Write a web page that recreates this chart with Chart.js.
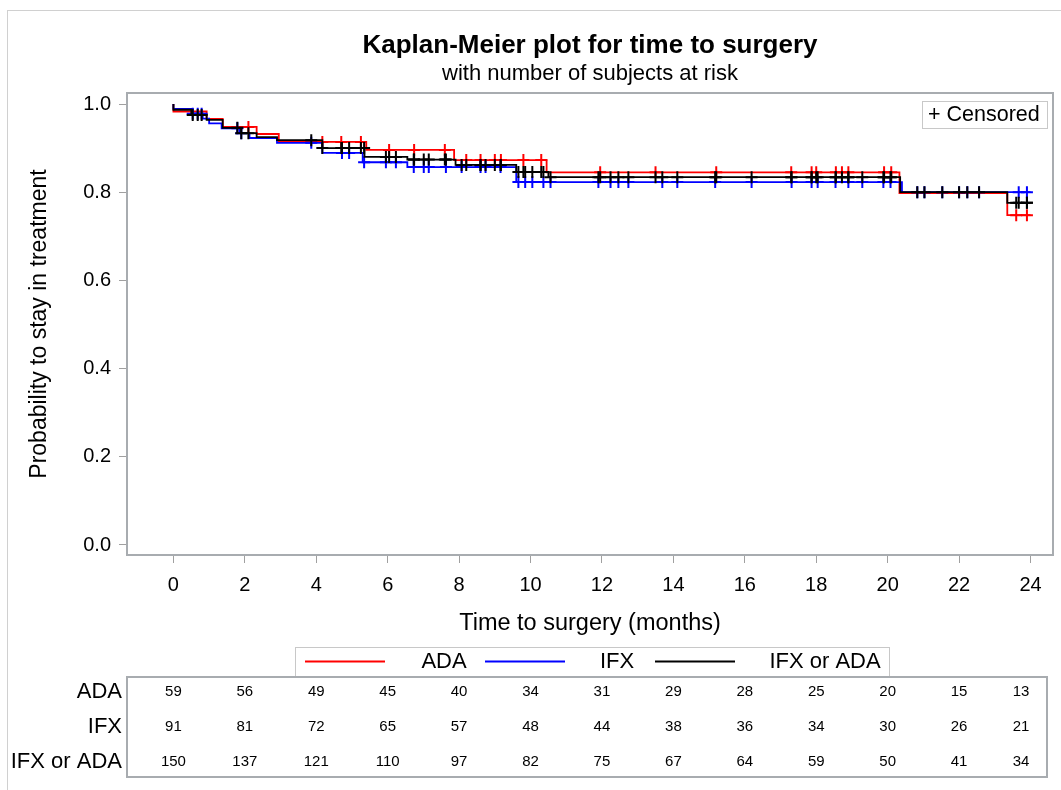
<!DOCTYPE html>
<html><head><meta charset="utf-8">
<script src="https://cdn.jsdelivr.net/npm/chart.js@4.4.1/dist/chart.umd.min.js"></script>
<style>html,body{margin:0;padding:0;background:#fff}canvas{display:block}</style>
</head><body>
<canvas id="c" width="1061" height="790" style="width:1061px;height:790px"></canvas>
<script>
// ---- data ----
const groupNames = ['ADA', 'IFX', 'IFX or ADA'];
const groupColors = ['#ff0000', '#0000ff', '#000000'];

const adaTimes = [0, 0, 0.93, 1.38, 2.33, 2.95, 5.4, 7.86, 10.45, 20.33, 23.35, 24];
const adaSurv  = [1, 0.983, 0.966, 0.948, 0.932, 0.914, 0.896, 0.873, 0.845, 0.798, 0.748, 0.748];
const adaCensored = [2.1, 4.17, 4.7, 5.25, 6.04, 6.74, 7.6, 8.2, 8.6, 9.0, 9.17, 9.8, 10.3, 11.95, 13.5, 15.2, 17.3, 17.87, 18.0, 18.55, 18.72, 18.9, 19.9, 20.1, 23.6, 23.9];

const ifxTimes = [0, 0, 0.54, 0.82, 1.0, 1.35, 1.85, 2.13, 2.9, 4.17, 5.3, 6.55, 9.6, 20.4, 24];
const ifxSurv  = [1, 0.989, 0.978, 0.967, 0.956, 0.945, 0.934, 0.923, 0.912, 0.889, 0.868, 0.857, 0.823, 0.80, 0.80];
const ifxCensored = [0.54, 0.68, 0.79, 1.79, 1.9, 3.86, 4.72, 4.92, 5.34, 5.95, 6.23, 6.73, 7.01, 7.15, 7.63, 8.07, 8.6, 8.74, 9.16, 9.66, 9.85, 10.05, 10.36, 10.56, 11.9, 12.24, 12.46, 12.74, 13.69, 14.11, 15.17, 16.19, 17.31, 17.87, 18.04, 18.54, 18.9, 19.29, 19.88, 20.08, 20.83, 21.03, 21.53, 22.0, 22.23, 22.56, 23.67, 23.9];

const allTimes = [0, 0, 0.5, 0.93, 1.38, 1.9, 2.33, 2.9, 4.17, 5.35, 6.55, 7.9, 9.6, 10.5, 20.35, 23.35, 24];
const allSurv  = [1, 0.987, 0.975, 0.964, 0.946, 0.934, 0.925, 0.918, 0.900, 0.880, 0.874, 0.862, 0.846, 0.834, 0.800, 0.776, 0.776];

const xTicks = [0, 2, 4, 6, 8, 10, 12, 14, 16, 18, 20, 22, 24];
const yTicks = [0, 0.2, 0.4, 0.6, 0.8, 1.0];

const riskTimes = [0, 2, 4, 6, 8, 10, 12, 14, 16, 18, 20, 22, 24];
const adaRisk = [59, 56, 49, 45, 40, 34, 31, 29, 28, 25, 20, 15, 13];
const ifxRisk = [91, 81, 72, 65, 57, 48, 44, 38, 36, 34, 30, 26, 21];
const allRisk = [150, 137, 121, 110, 97, 82, 75, 67, 64, 59, 50, 41, 34];

// ---- helpers ----
const FONT = "'Liberation Sans', Arial, sans-serif";
function stepPts(times, surv) { return times.map((t, i) => ({x: t, y: surv[i]})); }
function survAt(times, surv, t) {
  let s = surv[0];
  for (let i = 0; i < times.length; i++) if (times[i] <= t) s = surv[i];
  return s;
}
function censPts(cens, times, surv) { return cens.map(t => ({x: t, y: survAt(times, surv, t)})); }
const allCensored = adaCensored.concat(ifxCensored).sort((a, b) => a - b);

const curveSets = [
  [adaTimes, adaSurv, adaCensored],
  [ifxTimes, ifxSurv, ifxCensored],
  [allTimes, allSurv, allCensored]
];
const riskRows = [adaRisk, ifxRisk, allRisk];

const datasets = [];
curveSets.forEach((c, g) => {
  const order = 2 - g;
  datasets.push({
    label: groupNames[g], data: stepPts(c[0], c[1]), showLine: true, stepped: 'before',
    borderColor: groupColors[g], borderWidth: 1.8, pointRadius: 0, fill: false, order: order
  });
  datasets.push({
    label: groupNames[g] + ' censored', data: censPts(c[2], c[0], c[1]), showLine: false,
    pointStyle: 'cross', pointRadius: 6, pointBorderWidth: 2, pointBorderColor: groupColors[g],
    pointBackgroundColor: groupColors[g], order: order
  });
});

const decor = {
  id: 'decor',
  beforeDraw(chart) {
    const ctx = chart.ctx;
    ctx.save();
    ctx.strokeStyle = '#d0d0d0'; ctx.lineWidth = 1;
    ctx.strokeRect(7.5, 10.5, 1100, 900);
    ctx.restore();
  },
  afterDraw(chart) {
    const ctx = chart.ctx, a = chart.chartArea, xs = chart.scales.x;
    ctx.save();
    // plot frame
    ctx.strokeStyle = '#a8acb0'; ctx.lineWidth = 2;
    ctx.strokeRect(a.left, a.top, a.right - a.left, a.bottom - a.top);
    // censored legend
    ctx.strokeStyle = '#c8c8c8'; ctx.lineWidth = 1;
    ctx.strokeRect(922.5, 101.5, 125, 27);
    ctx.fillStyle = '#000'; ctx.font = '21.5px ' + FONT; ctx.textBaseline = 'middle'; ctx.textAlign = 'left';
    ctx.fillText('+ Censored', 928, 115);
    // bottom legend
    ctx.strokeStyle = '#c8c8c8'; ctx.strokeRect(295.5, 647.5, 594, 29);
    const lx = [[305, 385, 444], [485, 565, 617], [655, 735, 825]];
    groupNames.forEach((n, g) => {
      ctx.strokeStyle = groupColors[g]; ctx.lineWidth = 1.8;
      ctx.beginPath(); ctx.moveTo(lx[g][0], 661.5); ctx.lineTo(lx[g][1], 661.5); ctx.stroke();
      ctx.fillStyle = '#000'; ctx.textAlign = 'center'; ctx.font = '22px ' + FONT;
      ctx.fillText(n, lx[g][2], 662);
    });
    // risk table
    const tRight = 1047;
    ctx.strokeStyle = '#a8acb0'; ctx.lineWidth = 2;
    ctx.strokeRect(127, 677, tRight - 127, 100);
    const rowY = [692, 727, 762];
    groupNames.forEach((n, g) => {
      ctx.fillStyle = '#000'; ctx.textAlign = 'right'; ctx.font = '22px ' + FONT;
      ctx.fillText(n, 122, rowY[g]);
      ctx.textAlign = 'center'; ctx.font = '15px ' + FONT;
      riskRows[g].forEach((v, i) => {
        const px = Math.min(xs.getPixelForValue(riskTimes[i]), tRight - 26);
        ctx.fillText(String(v), px, rowY[g]);
      });
    });
    ctx.restore();
  }
};

new Chart(document.getElementById('c'), {
  type: 'scatter',
  data: {datasets: datasets},
  options: {
    responsive: false, animation: false, devicePixelRatio: 1, events: [],
    layout: {padding: {left: 0, right: 5, top: 22, bottom: 145}},
    plugins: {
      legend: {display: false}, tooltip: {enabled: false},
      title: {display: true, text: 'Kaplan-Meier plot for time to surgery', fullSize: false, color: '#000',
        font: {family: FONT, size: 26, weight: 'bold', lineHeight: 1}, padding: {top: 11, bottom: 2}},
      subtitle: {display: true, text: 'with number of subjects at risk', fullSize: false, color: '#000',
        font: {family: FONT, size: 22, weight: 'normal', lineHeight: 1}, padding: {top: 2, bottom: 8}}
    },
    scales: {
      x: {
        type: 'linear', min: -1.3, max: 24.63,
        afterBuildTicks: s => { s.ticks = xTicks.map(v => ({value: v})); },
        afterFit: s => { s.height = 90; },
        ticks: {font: {family: FONT, size: 20}, color: '#000', padding: 10, maxRotation: 0, autoSkip: false,
          callback: v => String(v)},
        grid: {display: true, drawOnChartArea: false, drawTicks: true, tickLength: 8, color: '#a0a0a0'},
        border: {display: false},
        title: {display: true, text: 'Time to surgery (months)', color: '#000',
          font: {family: FONT, size: 23.5}, padding: {bottom: 7}}
      },
      y: {
        type: 'linear', min: -0.0227, max: 1.025,
        afterBuildTicks: s => { s.ticks = yTicks.map(v => ({value: v})); },
        afterFit: s => { s.width = 127; },
        ticks: {font: {family: FONT, size: 20}, color: '#000', padding: 8, callback: v => v.toFixed(1)},
        grid: {display: true, drawOnChartArea: false, drawTicks: true, tickLength: 8, color: '#a0a0a0'},
        border: {display: false},
        title: {display: true, text: 'Probability to stay in treatment', color: '#000',
          font: {family: FONT, size: 23}, padding: {top: 26}}
      }
    }
  },
  plugins: [decor]
});
</script>
</body></html>
